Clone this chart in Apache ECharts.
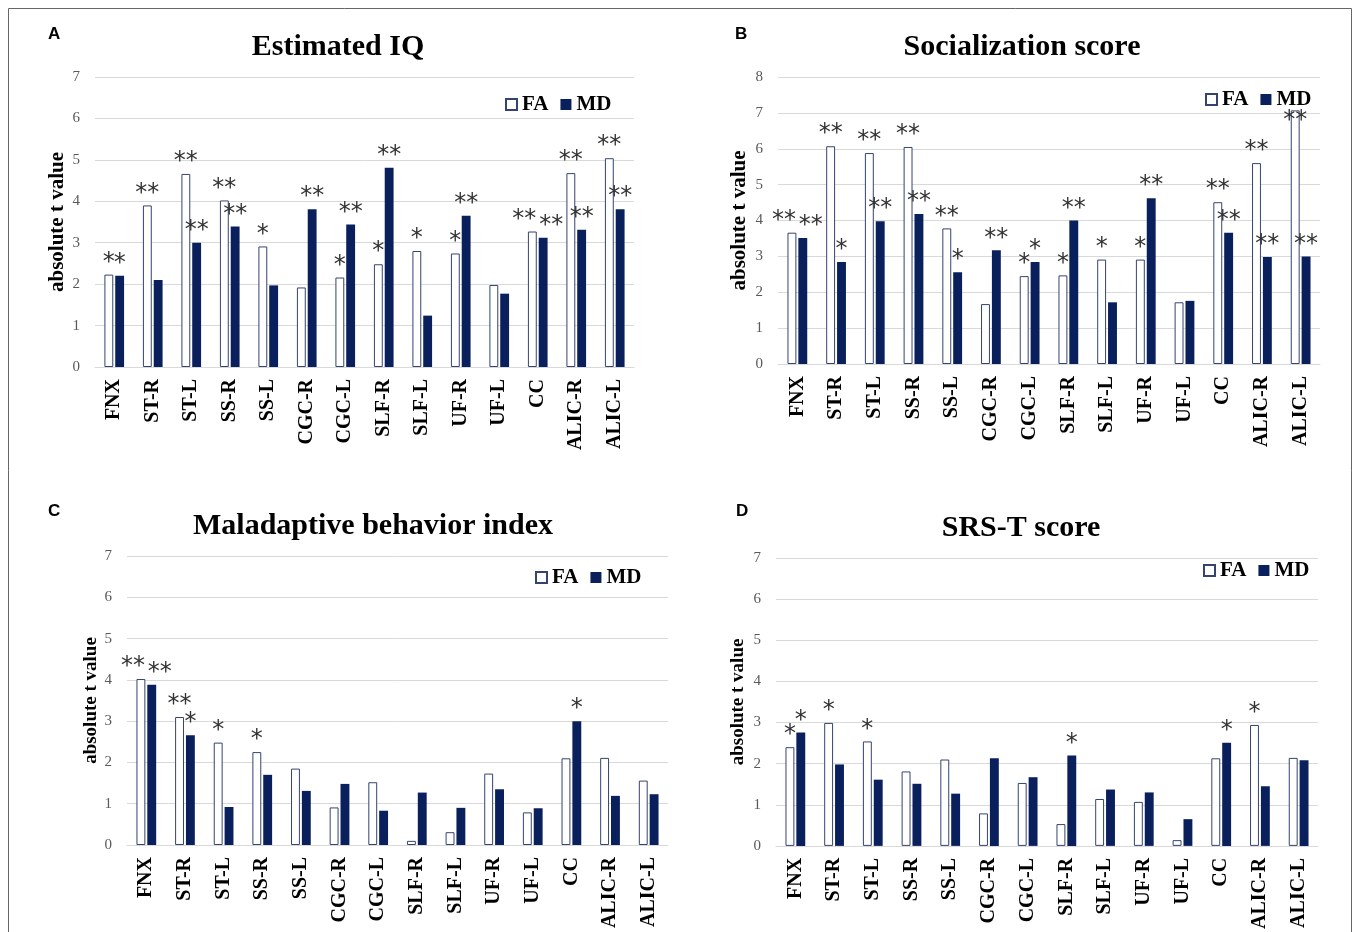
<!DOCTYPE html>
<html>
<head>
<meta charset="utf-8">
<script src="https://cdn.jsdelivr.net/npm/echarts@6/dist/echarts.min.js"></script>
<style>
html,body{margin:0;padding:0;background:#fff;}
#chart{width:1358px;height:932px;}
</style>
</head>
<body>
<div id="chart"></div>
<script>
// ---- data ----
const categories = ['FNX','ST-R','ST-L','SS-R','SS-L','CGC-R','CGC-L','SLF-R','SLF-L','UF-R','UF-L','CC','ALIC-R','ALIC-L'];
const seriesNames = ['FA','MD'];
const panelTitles = ['Estimated IQ','Socialization score','Maladaptive behavior index','SRS-T score'];
const panelLetters = ['A','B','C','D'];
const yMaxes = [7, 8, 7, 7];

const iqFA = [2.23,3.9,4.66,4.02,2.91,1.92,2.16,2.48,2.8,2.74,1.98,3.27,4.68,5.04];
const iqMD = [2.2,2.1,3.0,3.39,1.97,3.81,3.44,4.81,1.24,3.65,1.77,3.12,3.31,3.81];
const iqStarsFA = ['*','**','**','**','*','','*','*','*','*','','**','**','**'];
const iqStarsMD = ['*','','**','**','','**','**','**','','**','','**','**','**'];

const socFA = [3.66,6.07,5.88,6.05,3.78,1.67,2.45,2.47,2.91,2.91,1.72,4.51,5.6,7.07];
const socMD = [3.51,2.84,3.98,4.18,2.56,3.17,2.84,4.0,1.72,4.62,1.76,3.66,2.98,3.0];
const socStarsFA = ['**','**','**','**','**','','*','*','*','*','','**','**','**'];
const socStarsMD = ['**','*','**','**','*','**','*','**','','**','','**','**','**'];

const malFA = [4.02,3.1,2.48,2.25,1.85,0.91,1.52,0.1,0.31,1.73,0.79,2.1,2.11,1.56];
const malMD = [3.88,2.66,0.92,1.7,1.31,1.48,0.83,1.27,0.9,1.35,0.89,3.0,1.19,1.23];
const malStarsFA = ['**','**','*','*','','','','','','','','','',''];
const malStarsMD = ['**','*','','','','','','','','','','*','',''];

const srsFA = [2.4,2.99,2.54,1.81,2.1,0.79,1.53,0.53,1.14,1.07,0.14,2.13,2.94,2.14];
const srsMD = [2.76,1.98,1.61,1.51,1.27,2.13,1.67,2.2,1.37,1.3,0.65,2.51,1.45,2.08];
const srsStarsFA = ['*','*','*','','','','','','','','','','*',''];
const srsStarsMD = ['*','','','','','','','*','','','','*','',''];

const panelFA = [iqFA, socFA, malFA, srsFA];
const panelMD = [iqMD, socMD, malMD, srsMD];
const panelStarsFA = [iqStarsFA, socStarsFA, malStarsFA, srsStarsFA];
const panelStarsMD = [iqStarsMD, socStarsMD, malStarsMD, srsStarsMD];

// ---- layout ----
const grids = [
  {left:95, top:77, width:539, height:290},
  {left:778, top:77, width:542, height:287},
  {left:127, top:556, width:541, height:289},
  {left:776, top:558, width:542, height:289}
];
const titlePos = [{x:338,y:32},{x:1022,y:32},{x:373,y:511},{x:1021,y:513}];
const letterPos = [{x:48,y:26},{x:735,y:26},{x:48,y:503},{x:736,y:503}];
const legendPos = [{x:505,y:94},{x:1205,y:89},{x:535,y:567},{x:1203,y:560}];
const yNameSize = [21,21,19,19];
const yNameGap = [27,28,22,28];

const SERIF = 'Liberation Serif, Times New Roman, serif';
const NAVY = '#0a205c';
const FA_BORDER = '#35446e';
const GRID_C = '#d9d9d9';

const chart = echarts.init(document.getElementById('chart'));
const option = {
  backgroundColor:'#fff',
  animation:false,
  title: [], legend: [], grid: [], xAxis: [], yAxis: [], series: [],
  graphic: [{
    type:'rect', shape:{x:8.5,y:8.5,width:1343,height:960},
    style:{fill:'none', stroke:'#666', lineWidth:1}, silent:true
  }]
};

for (let p = 0; p < 4; p++) {
  option.grid.push(grids[p]);
  option.title.push({
    text: panelTitles[p], left: titlePos[p].x, top: titlePos[p].y, textAlign:'center', padding:0,
    textStyle:{fontFamily:SERIF, fontWeight:'bold', fontSize:30, color:'#000'}
  });
  option.title.push({
    text: panelLetters[p], left: letterPos[p].x, top: letterPos[p].y, padding:0,
    textStyle:{fontFamily:'Liberation Sans, Arial, sans-serif', fontWeight:'bold', fontSize:17, color:'#000'}
  });
  option.legend.push({
    data: seriesNames, left: legendPos[p].x, top: legendPos[p].y,
    itemWidth:11, itemHeight:11, itemGap:12, icon:'rect', padding:0,
    textStyle:{fontFamily:SERIF, fontWeight:'bold', fontSize:21, color:'#000'}
  });
  option.xAxis.push({
    type:'category', gridIndex:p, data:categories,
    axisLine:{lineStyle:{color:GRID_C}}, axisTick:{show:false},
    axisLabel:{rotate:90, margin:12, fontFamily:SERIF, fontWeight:'bold', fontSize:20, color:'#000', interval:0}
  });
  option.yAxis.push({
    type:'value', gridIndex:p, min:0, max:yMaxes[p], interval:1,
    name:'absolute t value', nameLocation:'middle', nameRotate:90, nameGap:yNameGap[p],
    nameTextStyle:{fontFamily:SERIF, fontWeight:'bold', fontSize:yNameSize[p], color:'#000'},
    axisLine:{show:false}, axisTick:{show:false},
    splitLine:{lineStyle:{color:GRID_C, width:1}},
    axisLabel:{margin:15, fontFamily:SERIF, fontSize:15, color:'#595959'}
  });
  const yMax = yMaxes[p];
  const fa = panelFA[p], md = panelMD[p], sFA = panelStarsFA[p], sMD = panelStarsMD[p];
  const makeData = (vals, isFA) => vals.map((v, i) => {
    const item = {value: v};
    const lab = {};
    // paired double stars at similar heights are spread apart so they don't collide
    if (sFA[i] === '**' && sMD[i] === '**' && Math.abs(fa[i] - md[i]) < 0.6) {
      lab.offset = [isFA ? -8 : 8, 0];
    }
    // bars reaching the top of the scale carry their stars just inside the bar top
    if (v > yMax - 1) { lab.position = 'insideTop'; lab.distance = -2; }
    if (Object.keys(lab).length) item.label = lab;
    return item;
  });
  const starLabel = (arr) => ({
    show:true, position:'top', distance:0,
    fontFamily:'DejaVu Sans, sans-serif', fontSize:24, color:'#333',
    formatter: (pr) => arr[pr.dataIndex]
  });
  option.series.push({
    name:'FA', type:'bar', xAxisIndex:p, yAxisIndex:p, data:makeData(fa, true),
    barWidth:'23%', barGap:'22%',
    itemStyle:{color:'#fff', borderColor:FA_BORDER, borderWidth:1},
    label: starLabel(sFA)
  });
  option.series.push({
    name:'MD', type:'bar', xAxisIndex:p, yAxisIndex:p, data:makeData(md, false),
    barWidth:'23%', barGap:'22%',
    itemStyle:{color:NAVY},
    label: starLabel(sMD)
  });
}
chart.setOption(option);
</script>
</body>
</html>
